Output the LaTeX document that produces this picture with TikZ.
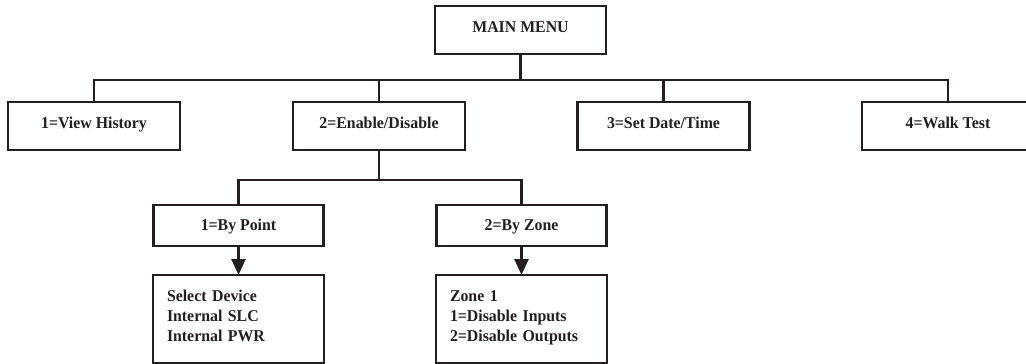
\documentclass[tikz,border=0pt]{standalone}
\usepackage{fontspec}
\setmainfont{Liberation Serif}[FakeStretch=0.96]
\usetikzlibrary{arrows.meta}
\definecolor{ink}{RGB}{35,31,32}
\begin{document}
\begin{tikzpicture}[x=1pt,y=-1pt,
  every node/.style={font=\bfseries\fontsize{16.5}{20}\selectfont, text=ink},
  topbox/.style={draw=ink, line width=2.5pt, inner sep=0pt, outer sep=0pt,
    minimum width=172pt, minimum height=48pt, text height=11pt, text depth=7pt},
  subbox/.style={draw=ink, line width=2.5pt, inner sep=0pt, outer sep=0pt,
    minimum width=170pt, minimum height=41pt, text height=11pt, text depth=1pt},
  listbox/.style={draw=ink, line width=2.5pt, inner xsep=14pt, inner ysep=0pt, outer sep=0pt,
    minimum width=171pt, minimum height=88pt, text width=143pt, align=left},
  conn/.style={draw=ink, line width=2.5pt, line join=miter},
  arr/.style={conn, -{Triangle[length=16pt,width=14pt]}}]
\useasboundingbox (0,0) rectangle (1026,364);

\node[topbox, minimum width=171pt] (mm) at (520.5,30) {MAIN MENU};
\node[topbox] (vh) at (94,126) {1=View History};
\node[topbox] (ed) at (379,126) {2=Enable/Disable};
\node[topbox] (sd) at (663.5,126) {3=Set Date/Time};
\node[topbox] (wt) at (948,126) {4=Walk Test};

\node[subbox] (bp) at (238.5,225.5) {1=By Point};
\node[subbox] (bz) at (521.5,225.5) {2=By Zone};

\node[listbox] (dev) at (238.5,319) {Select Device\\Internal SLC\\Internal PWR\\[-14pt]\mbox{}};
\node[listbox] (zn) at (521.5,319) {Zone 1\\1=Disable Inputs\\2=Disable Outputs\\[-14pt]\mbox{}};

\coordinate (j1) at (520.5,80);
\coordinate (j2) at (379,180);

\draw[conn] (mm.south) -- (j1);
\draw[conn] (vh.north) -- (vh.north |- j1) -- (wt.north |- j1) -- (wt.north);
\draw[conn] (ed.north) -- (ed.north |- j1);
\draw[conn] (sd.north) -- (sd.north |- j1);

\draw[conn] (ed.south) -- (j2);
\draw[conn] (bp.north) -- (bp.north |- j2) -- (bz.north |- j2) -- (bz.north);

\draw[arr] (bp.south) -- (dev.north);
\draw[arr] (bz.south) -- (zn.north);
\end{tikzpicture}
\end{document}
